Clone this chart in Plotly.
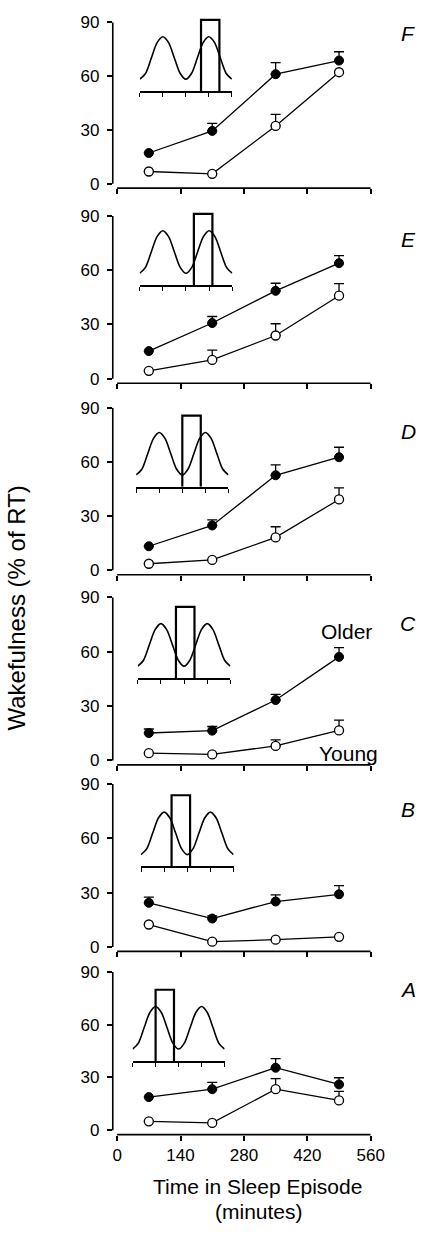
import plotly.graph_objects as go

# ---------------- data ----------------
time_min = [70, 210, 350, 490]
x_ticks = [0, 140, 280, 420, 560]
y_ticks = [0, 30, 60, 90]
panel_labels = ["A", "B", "C", "D", "E", "F"]

older_A = [18.8, 23.3, 35.5, 26.0]
older_A_err = [None, 3.9, 5.2, 3.8]
young_A = [5.0, 4.1, 23.3, 16.9]
young_A_err = [None, None, 6.0, 5.2]

older_B = [24.4, 15.7, 25.1, 29.1]
older_B_err = [3.1, 1.5, 3.7, 4.8]
young_B = [12.4, 2.9, 4.0, 5.6]
young_B_err = [None, None, None, None]

older_C = [15.1, 16.4, 33.3, 57.1]
older_C_err = [2.2, 2.3, 3.1, 5.1]
young_C = [4.0, 3.3, 8.0, 16.5]
young_C_err = [None, None, 3.3, 5.7]

older_D = [13.3, 24.8, 52.6, 62.6]
older_D_err = [None, 3.1, 5.8, 5.5]
young_D = [3.6, 5.7, 18.2, 39.2]
young_D_err = [None, None, 5.9, 6.4]

older_E = [15.3, 30.8, 48.6, 63.9]
older_E_err = [None, 3.6, 4.2, 4.2]
young_E = [4.4, 10.4, 23.9, 45.9]
young_E_err = [None, 5.4, 6.5, 6.7]

older_F = [17.1, 29.4, 61.0, 68.6]
older_F_err = [None, 4.2, 6.5, 4.9]
young_F = [6.8, 5.5, 32.2, 62.1]
young_F_err = [None, None, 6.4, None]

# inset schematic (cycle curve) and window starts
inset_x = [0, 0.25, 0.5, 0.75, 1, 1.25, 1.5, 1.75, 2, 2.25, 2.5, 2.75, 3, 3.25, 3.5, 3.75, 4]
inset_y = [12, 18, 33.5, 49, 55, 49, 33.5, 18, 12, 18, 33.5, 49, 55, 49, 33.5, 18, 12]
inset_ticks = [0, 1, 2, 3, 4]
window_start = [1.0, 1.32, 1.65, 2.0, 2.34, 2.66]
window_width = 0.8
window_top = 72

# ---------------- layout constants (pixels) ----------------
W, H = 437, 1234
FONT = "Liberation Sans, Arial, sans-serif"
panel_px = {
    "A": (974, 1134),
    "B": (784, 948.7),
    "C": (595, 760),
    "D": (403.3, 567.7),
    "E": (209.3, 374),
    "F": (13.3, 176.7),
}
inset_px = {
    "A": (137, 232, 1064),
    "B": (145.7, 241.3, 867.3),
    "C": (142.3, 238, 676.7),
    "D": (140.7, 236, 483.3),
    "E": (144.3, 240, 279.3),
    "F": (144.5, 239.5, 83),
}
label_y_px = {"A": 992, "B": 810, "C": 622, "D": 427, "E": 233, "F": 25}

x_left_px, x_zero_px, x_right_px = 116.5, 121.0, 383.0
x_scale = (x_right_px - x_zero_px) / 560.0
x_min = -(x_zero_px - x_left_px) / x_scale

def fx(p):
    return p / W

def fy(p):
    return 1 - p / H

data_sets = {
    "A": (older_A, older_A_err, young_A, young_A_err),
    "B": (older_B, older_B_err, young_B, young_B_err),
    "C": (older_C, older_C_err, young_C, young_C_err),
    "D": (older_D, older_D_err, young_D, young_D_err),
    "E": (older_E, older_E_err, young_E, young_E_err),
    "F": (older_F, older_F_err, young_F, young_F_err),
}

fig = go.Figure()
layout = dict(
    width=W, height=H,
    margin=dict(l=0, r=0, t=0, b=0),
    paper_bgcolor="white", plot_bgcolor="white",
    showlegend=False,
    font=dict(family=FONT, color="black", size=17),
)
shapes = []
annotations = []

def err_dict(err):
    return dict(type="data", symmetric=False, array=err,
                arrayminus=[0 if e is not None else None for e in err],
                color="black", thickness=1.3, width=5, visible=True)

for i, lab in enumerate(panel_labels):
    n = i + 1
    ni = i + 7
    older, older_err, young, young_err = data_sets[lab]
    y90, y0 = panel_px[lab]
    unit = (y0 - y90) / 90.0
    bottom_px = y0 + 4.5
    y_min = -(bottom_px - y0) / unit

    xa = "x" if n == 1 else f"x{n}"
    ya = "y" if n == 1 else f"y{n}"
    xkey = "xaxis" if n == 1 else f"xaxis{n}"
    ykey = "yaxis" if n == 1 else f"yaxis{n}"

    layout[xkey] = dict(domain=[fx(x_left_px), fx(x_right_px)], range=[x_min, 560],
                        anchor=ya, showline=False, showgrid=False, zeroline=False,
                        ticks="outside", ticklen=5, tickwidth=1.5, tickcolor="black",
                        tickvals=x_ticks, ticktext=[str(v) for v in x_ticks],
                        showticklabels=(lab == "A"), tickfont=dict(size=17, family=FONT))
    layout[ykey] = dict(domain=[fy(bottom_px), fy(y90)], range=[y_min, 90],
                        anchor=xa, showline=False, showgrid=False, zeroline=False,
                        ticks="outside", ticklen=5, tickwidth=1.5, tickcolor="black",
                        tickvals=y_ticks, ticktext=[str(v) for v in y_ticks],
                        ticklabelstandoff=4, tickfont=dict(size=17, family=FONT))

    shapes.append(dict(type="line", xref=f"{xa} domain", yref=ya, x0=0, x1=0, y0=0, y1=90,
                       line=dict(color="black", width=1.6)))
    shapes.append(dict(type="line", xref=xa, yref=f"{ya} domain", x0=0, x1=560, y0=0, y1=0,
                       line=dict(color="black", width=1.6)))

    fig.add_trace(go.Scatter(x=time_min, y=young, xaxis=xa, yaxis=ya, mode="lines+markers",
                             line=dict(color="black", width=1.3),
                             marker=dict(symbol="circle", size=9, color="white",
                                         line=dict(color="black", width=1.3)),
                             error_y=err_dict(young_err), cliponaxis=False))
    fig.add_trace(go.Scatter(x=time_min, y=older, xaxis=xa, yaxis=ya, mode="lines+markers",
                             line=dict(color="black", width=1.3),
                             marker=dict(symbol="circle", size=9, color="black",
                                         line=dict(color="black", width=1)),
                             error_y=err_dict(older_err), cliponaxis=False))

    ix0, ix4, ibase = inset_px[lab]
    ixa, iya = f"x{ni}", f"y{ni}"
    layout[f"xaxis{ni}"] = dict(domain=[fx(ix0), fx(ix4)], range=[0, 4], anchor=iya,
                                showline=True, linecolor="black", linewidth=1.5,
                                showgrid=False, zeroline=False, ticks="outside",
                                ticklen=4, tickwidth=1.3, tickcolor="black",
                                tickvals=inset_ticks, showticklabels=False)
    layout[f"yaxis{ni}"] = dict(domain=[fy(ibase), fy(ibase - 76)], range=[0, 76], anchor=ixa,
                                visible=False, showgrid=False, zeroline=False)
    fig.add_trace(go.Scatter(x=inset_x, y=inset_y, xaxis=ixa, yaxis=iya, mode="lines",
                             line=dict(color="black", width=1.6, shape="spline", smoothing=0.8)))
    s = window_start[i]
    fig.add_trace(go.Scatter(x=[s, s, s + window_width, s + window_width],
                             y=[0, window_top, window_top, 0],
                             xaxis=ixa, yaxis=iya, mode="lines",
                             line=dict(color="black", width=2.2)))

    annotations.append(dict(text=f"<i>{lab}</i>", x=fx(422), y=fy(label_y_px[lab]),
                            xref="paper", yref="paper", xanchor="center", yanchor="middle",
                            showarrow=False, font=dict(size=21, family=FONT)))

annotations += [
    dict(text="Older", x=fx(358), y=fy(630), xref="paper", yref="paper",
         xanchor="center", yanchor="middle", showarrow=False, font=dict(size=21, family=FONT)),
    dict(text="Young", x=fx(360), y=fy(753), xref="paper", yref="paper",
         xanchor="center", yanchor="middle", showarrow=False, font=dict(size=21, family=FONT)),
    dict(text="Time in Sleep Episode", x=fx(266), y=fy(1191), xref="paper", yref="paper",
         xanchor="center", yanchor="middle", showarrow=False, font=dict(size=21, family=FONT)),
    dict(text="(minutes)", x=fx(268), y=fy(1216), xref="paper", yref="paper",
         xanchor="center", yanchor="middle", showarrow=False, font=dict(size=21, family=FONT)),
    dict(text="Wakefulness (% of RT)", x=fx(17), y=fy(606), xref="paper", yref="paper",
         xanchor="center", yanchor="middle", textangle=-90, showarrow=False,
         font=dict(size=24, family=FONT)),
]

layout["shapes"] = shapes
layout["annotations"] = annotations
fig.update_layout(**layout)
fig.write_html("out.html", config={"displayModeBar": False},
               post_script="document.body.style.margin='0';")
